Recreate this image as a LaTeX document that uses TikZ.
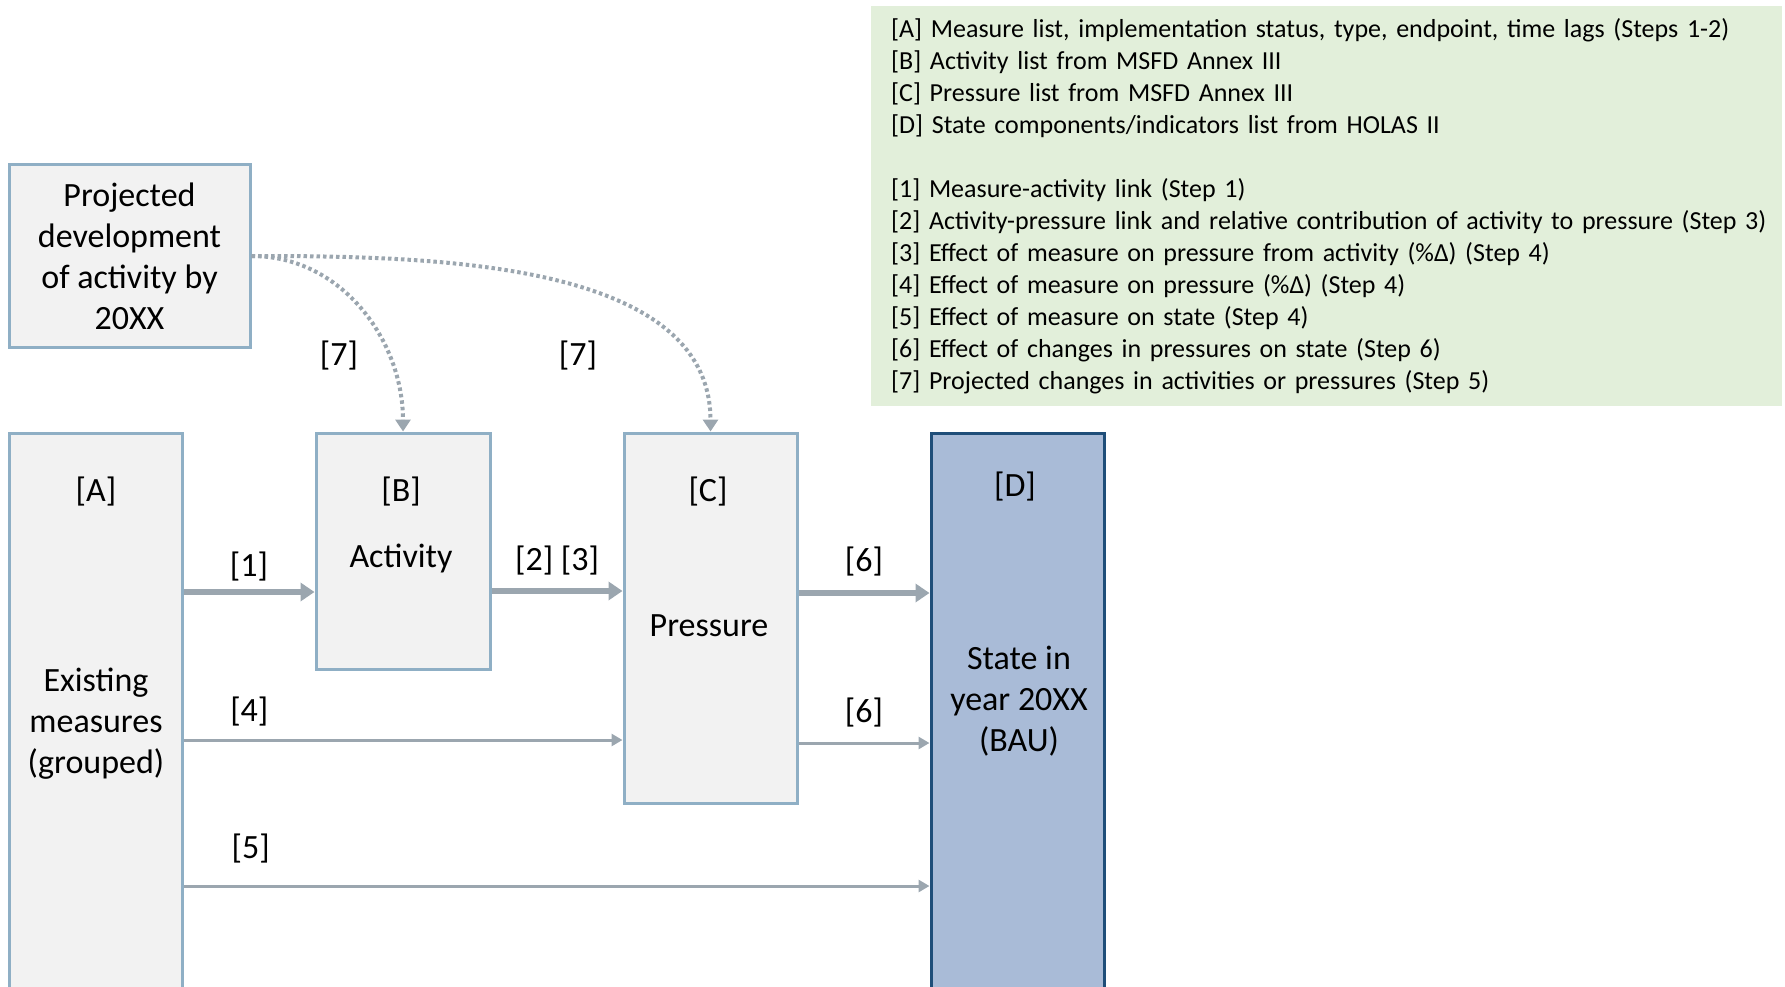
\documentclass[tikz,border=0pt]{standalone}
\usepackage{fontspec}
\setmainfont{Carlito}
\usetikzlibrary{positioning,arrows.meta}
\definecolor{boxline}{HTML}{8FAFC5}
\definecolor{boxfill}{HTML}{F2F2F2}
\definecolor{arrowgray}{HTML}{9BA6AF}
\definecolor{statefill}{HTML}{A9BBD7}
\definecolor{stateline}{HTML}{1F4E79}
\definecolor{keyfill}{HTML}{E2EFDA}

\begin{document}
\begin{tikzpicture}[x=1pt,y=1pt,
    every node/.style={font=\fontsize{34}{41}\selectfont},
    box/.style={draw=boxline,fill=boxfill,line width=3pt,inner sep=0pt,minimum width=173pt},
    statebox/.style={box,draw=stateline,fill=statefill},
    bigarrow/.style={draw=arrowgray,line width=5.5pt,-{Triangle[length=14pt,width=18pt]}},
    thinarrow/.style={draw=arrowgray,line width=3pt,-{Triangle[length=11pt,width=12pt]}},
    dotarrow/.style={draw=arrowgray,line width=4pt,dash pattern=on 3.5pt off 3pt,-{Triangle[length=12pt,width=15pt]}},
    tag/.style={above=#1,inner sep=2pt},
    tag/.default=6pt]
\useasboundingbox (0,0) rectangle (1785,-987);

% legend
\node[fill=keyfill,anchor=north west,minimum width=911pt,minimum height=400pt,
      text width=909pt,align=left,inner sep=0pt,
      font=\fontsize{26}{32}\selectfont] (key) at (871,-6) {%
  \hspace*{19pt}[A] Measure list, implementation status, type, endpoint, time lags (Steps 1-2)\\
  \hspace*{19pt}[B] Activity list from MSFD Annex III\\
  \hspace*{19pt}[C] Pressure list from MSFD Annex III\\
  \hspace*{19pt}[D] State components/indicators list from HOLAS II\\[32pt]
  \hspace*{19pt}[1] Measure-activity link (Step 1)\\
  \hspace*{19pt}[2] Activity-pressure link and relative contribution of activity to pressure (Step 3)\\
  \hspace*{19pt}[3] Effect of measure on pressure from activity (\%Δ) (Step 4)\\
  \hspace*{19pt}[4] Effect of measure on pressure (\%Δ) (Step 4)\\
  \hspace*{19pt}[5] Effect of measure on state (Step 4)\\
  \hspace*{19pt}[6] Effect of changes in pressures on state (Step 6)\\
  \hspace*{19pt}[7] Projected changes in activities or pressures (Step 5)};

% boxes
\node[box,minimum width=241pt,minimum height=182pt,align=center] (P) at (129.5,-256)
    {Projected\\development\\of activity by\\20XX};
\node[box,minimum height=562pt] (A) at (95.5,-714) {};
\node[box,minimum width=174pt,minimum height=236pt] (B) at (403,-551) {};
\node[box,minimum height=370pt] (C) at (710.5,-618) {};
\node[statebox,minimum height=562pt] (D) at (1017.5,-714) {};

% texts in the boxes
\node (A_tag) at (96,-492) {[A]};
\node[align=center] (A_text) at (96,-724) {Existing\\measures\\(grouped)};
\node (B_tag) at (401,-492) {[B]};
\node (B_text) at (401,-558) {Activity};
\node (C_tag) at (708,-492) {[C]};
\node (C_text) at (709,-626) {Pressure};
\node (D_tag) at (1015,-487) {[D]};
\node[align=center] (D_text) at (1019,-701) {State in\\year 20XX\\(BAU)};

% links
\draw[bigarrow] ([yshift=-41pt]B.west -| A.east) -- node[tag] {[1]} ([yshift=-41pt]B.west);
\draw[bigarrow] ([yshift=-40pt]B.east) -- node[tag=11pt] {[2] [3]} ([yshift=-40pt]B.east -| C.west);
\draw[bigarrow] ([yshift=25pt]C.east) -- node[tag=12pt] {[6]} ([yshift=25pt]C.east -| D.west);
\draw[thinarrow] ([yshift=-26pt]A.east) -- node[tag=10pt,pos=0.15] {[4]} ([yshift=-26pt]A.east -| C.west);
\draw[thinarrow] ([yshift=-125pt]C.east) -- node[tag=12pt] {[6]} ([yshift=-125pt]C.east -| D.west);
\draw[thinarrow] ([yshift=-172pt]A.east) -- node[tag=19pt,pos=0.09] {[5]} ([yshift=-172pt]A.east -| D.west);

% projections
\draw[dotarrow] (P.east) to[out=0,in=90] (B.north);
\draw[dotarrow] (P.east) to[out=0,in=90,looseness=0.9] (C.north);
\node (seven_B) at (339,-356) {[7]};
\node (seven_C) at (578,-356) {[7]};
\end{tikzpicture}
\end{document}
